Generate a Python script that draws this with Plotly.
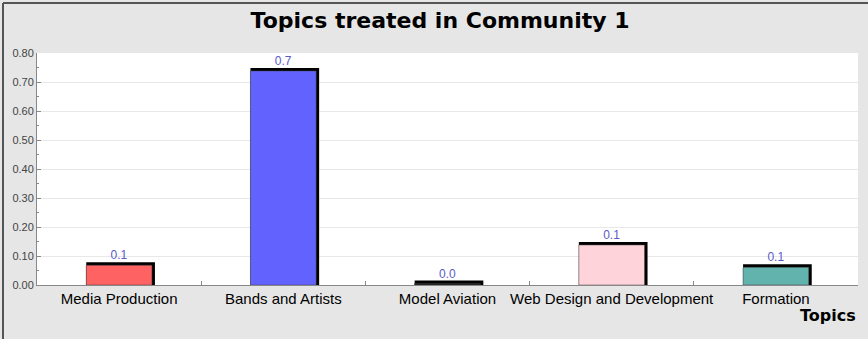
import plotly.graph_objects as go

categories = ["Media Production", "Bands and Artists", "Model Aviation",
              "Web Design and Development", "Formation"]
values = [0.068, 0.738, 0.005, 0.138, 0.061]
colors = ["#ff6262", "#6262ff", "#1a1a1a", "#ffd3da", "#62b2ad"]
yticks = [0.0, 0.1, 0.2, 0.3, 0.4, 0.5, 0.6, 0.7, 0.8]

W, H = 868, 339
ml, mr, mt, mb = 37, 10, 53, 54
pw, ph = W - ml - mr, H - mt - mb
dx = 3 / (pw / len(categories))
dy = 3 / (ph / 0.8)

fig = go.Figure()
fig.add_trace(go.Bar(
    x=categories, y=[v + dy for v in values], width=0.4 + dx, offset=-0.2,
    marker=dict(color="#000000", line=dict(width=0)),
    hoverinfo="skip", showlegend=False))
fig.add_trace(go.Bar(
    x=categories, y=values, width=0.4, offset=-0.2,
    marker=dict(color=colors, line=dict(color="#444444", width=0.5)),
    texttemplate="%{y:.1f}", textposition="outside", cliponaxis=False,
    textfont=dict(family="Liberation Sans, Arial", size=12, color="#5a5ac8"),
    showlegend=False))

fig.update_layout(
    width=W, height=H, barmode="overlay",
    margin=dict(l=ml, r=mr, t=mt, b=mb, autoexpand=False),
    paper_bgcolor="#e6e6e6", plot_bgcolor="#ffffff",
    title=dict(text="<b>Topics treated in Community 1</b>", x=0.507, xanchor="center",
               y=1 - 20 / H, yanchor="middle",
               font=dict(family="DejaVu Sans", size=22, color="#000000")),
    xaxis=dict(showline=True, linecolor="#888888", linewidth=1, automargin=False,
               tickangle=0,
               ticks="inside", ticklen=4, tickcolor="#888888", tickson="boundaries",
               showgrid=False, range=[-0.5, 4.5],
               tickfont=dict(family="Liberation Sans, Arial", size=15, color="#000000")),
    yaxis=dict(range=[0, 0.8], tickvals=yticks, tickformat=".2f", automargin=False,
               showline=True, linecolor="#888888", linewidth=1,
               ticks="inside", ticklen=4, tickcolor="#888888",
               minor=dict(ticks="inside", ticklen=2, dtick=0.05, tickcolor="#888888"),
               gridcolor="#e8e8e8", zeroline=False,
               tickfont=dict(family="Liberation Sans, Arial", size=11, color="#444444")),
    annotations=[dict(text="<b>Topics</b>", xref="paper", yref="paper",
                      x=1, y=-(315 - (mt + ph)) / ph, xanchor="right",
                      yanchor="middle", showarrow=False,
                      font=dict(family="DejaVu Sans", size=16, color="#000000"))],
    shapes=[
        dict(type="line", xref="paper", yref="paper",
             x0=(3 - ml) / pw, x1=(W - ml) / pw, y0=1 + (mt - 3) / ph, y1=1 + (mt - 3) / ph,
             line=dict(color="#555555", width=2)),
        dict(type="line", xref="paper", yref="paper",
             x0=(3 - ml) / pw, x1=(3 - ml) / pw, y0=1 + (mt - 3) / ph, y1=-(mb) / ph,
             line=dict(color="#555555", width=2)),
    ],
)

fig.write_html("out.html")
